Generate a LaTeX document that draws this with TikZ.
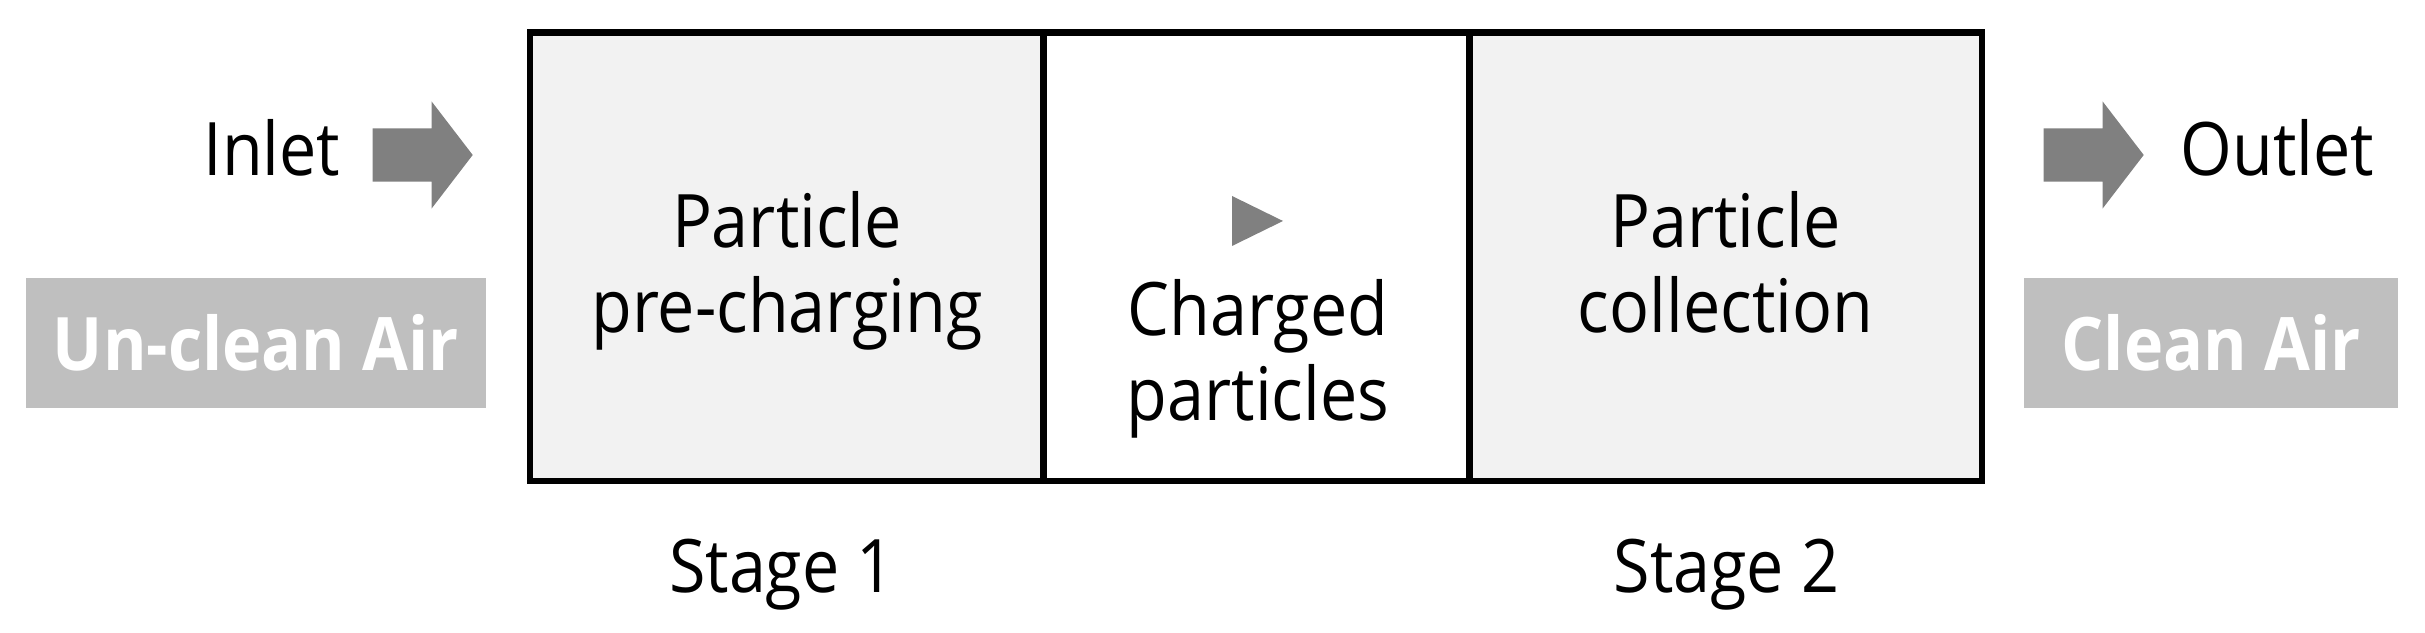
\documentclass[tikz,border=0pt]{standalone}
\usepackage{fontspec}
\setmainfont[FakeStretch=0.9]{Open Sans}
\usepackage{tikz}
\usetikzlibrary{shapes.arrows}
\definecolor{stagefill}{HTML}{F2F2F2}
\definecolor{airfill}{HTML}{BFBFBF}
\definecolor{flowgray}{HTML}{808080}
\tikzset{stagebox/.style = {shape=rectangle,draw,line width=0.065cm,minimum height=4.484cm,inner sep=0pt,outer sep=0pt}}
\tikzset{airbox/.style = {shape=rectangle,fill=airfill,minimum height=1.30cm,inner sep=0pt,text=white,font=\fontsize{21pt}{24.2pt}\selectfont\bfseries}}
\tikzset{flowarrow/.style = {single arrow,fill=flowgray,anchor=tail,minimum height=1cm,text height=0.52cm,text depth=0pt,inner sep=0pt,single arrow head extend=0.27cm,single arrow tip angle=105}}
\tikzset{txt/.style = {align=center,anchor=base,inner sep=0pt}}

\begin{document}
\begin{tikzpicture}[font=\fontsize{21pt}{24.2pt}\selectfont]
    \useasboundingbox (0,0) rectangle (24.25,6.33);

    \node[stagebox, fill=stagefill, minimum width=5.135cm] (precharge) at (7.8675,3.762) {};
    \node[stagebox, fill=white, minimum width=4.26cm] (charged) at (12.565,3.762) {};
    \node[stagebox, fill=stagefill, minimum width=5.125cm] (collect) at (17.2575,3.762) {};

    \node[txt] (precharge text) at (7.87,3.00) {Particle\\pre-charging};
    \fill[flowgray] (12.32,4.37) -- (12.83,4.12) -- (12.32,3.87) -- cycle;
    \node[txt] (charged text) at (12.58,2.12) {Charged\\particles};
    \node[txt] (collect text) at (17.255,3.00) {Particle\\collection};

    \node[txt] (stage1) at (7.82,0.40) {Stage 1};
    \node[txt] (stage2) at (17.265,0.40) {Stage 2};

    \node[flowarrow] (in arrow) at (3.72,4.78) {};
    \node[txt, anchor=base east] (inlet) at (3.41,4.57) {Inlet};
    \node[flowarrow] (out arrow) at (20.43,4.78) {};
    \node[txt, anchor=base west] (outlet) at (21.80,4.57) {Outlet};

    \node[airbox, minimum width=4.60cm] (unclean) at (2.56,2.90) {Un-clean Air};
    \node[airbox, minimum width=3.74cm] (clean) at (22.11,2.90) {Clean Air};
\end{tikzpicture}
\end{document}
